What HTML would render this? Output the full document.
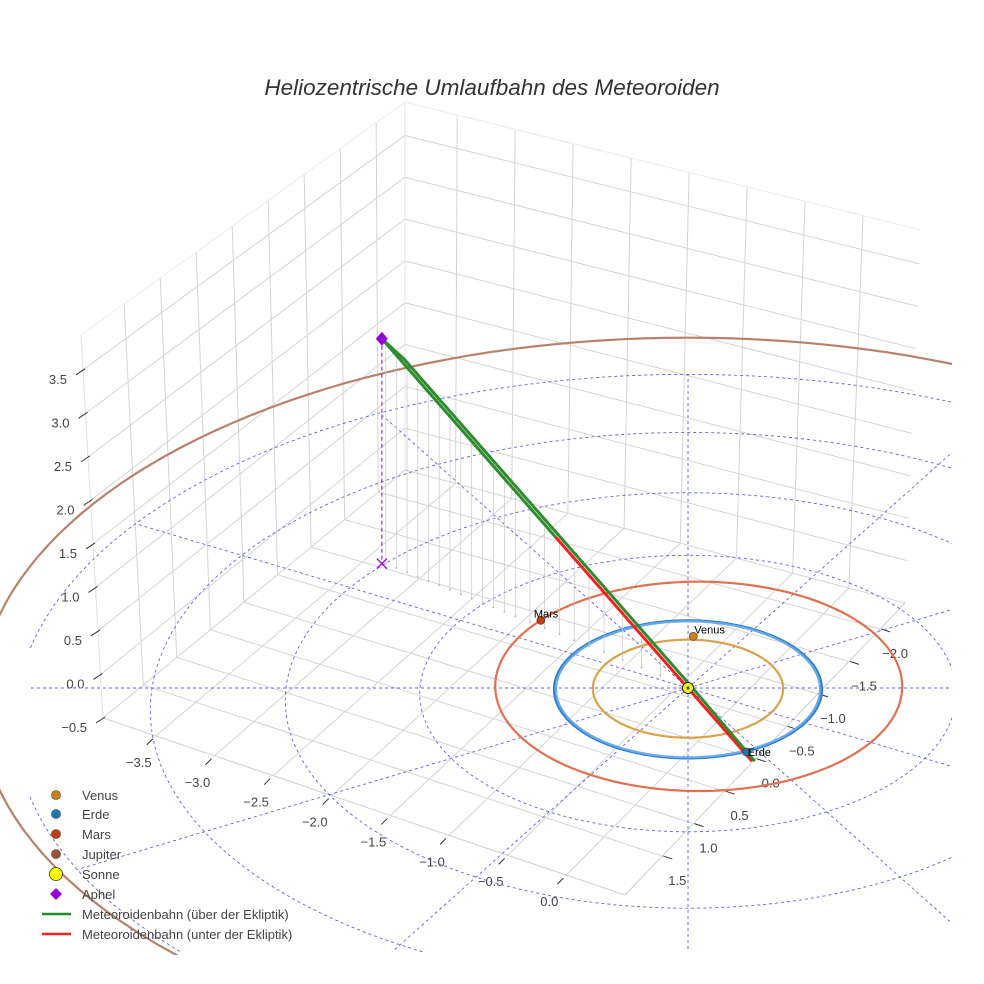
<!DOCTYPE html>
<html><head><meta charset="utf-8"><style>
html,body{margin:0;padding:0;background:#fff;width:984px;height:984px;overflow:hidden;}
svg{display:block;font-family:"Liberation Sans",sans-serif;}
</style></head><body>
<svg id="chart" width="984" height="984" viewBox="0 0 984 984">
<defs>
<clipPath id="clipEc"><rect x="30" y="0" width="922" height="952"/></clipPath>
<clipPath id="clipJ"><rect x="0" y="0" width="952" height="955"/></clipPath>
</defs>
<rect x="0" y="0" width="984" height="984" fill="#fff"/>
<text x="492" y="95" text-anchor="middle" font-size="22.5" font-style="italic" fill="#333">Heliozentrische Umlaufbahn des Meteoroiden</text>
<g id="box"></g>
<g id="axes"></g>
<g id="ecl" clip-path="url(#clipEc)"></g>
<g id="jup" clip-path="url(#clipJ)"></g>
<g id="orbits"></g>
<g id="drops"></g>
<g id="met"></g>
<g id="marks"></g>
<g id="legend">
  <circle cx="56" cy="795" r="4.5" fill="#c88410" stroke="#333" stroke-width="0.6"/>
  <text x="82" y="800" font-size="13" fill="#444">Venus</text>
  <circle cx="56" cy="814" r="4.5" fill="#1f77b4" stroke="#333" stroke-width="0.6"/>
  <text x="82" y="819" font-size="13" fill="#444">Erde</text>
  <circle cx="56" cy="834" r="4.5" fill="#c2400e" stroke="#333" stroke-width="0.6"/>
  <text x="82" y="839" font-size="13" fill="#444">Mars</text>
  <circle cx="56" cy="854" r="4.5" fill="#a0522d" stroke="#333" stroke-width="0.6"/>
  <text x="82" y="859" font-size="13" fill="#444">Jupiter</text>
  <circle cx="56" cy="874" r="6.5" fill="#ffff00" stroke="#333" stroke-width="0.8"/>
  <text x="82" y="879" font-size="13" fill="#444">Sonne</text>
  <path d="M56 888 L62 894 L56 900 L50 894 Z" fill="#9400d3"/>
  <text x="82" y="899" font-size="13" fill="#444">Aphel</text>
  <line x1="42" y1="914" x2="71" y2="914" stroke="#228b22" stroke-width="2.5"/>
  <text x="82" y="919" font-size="13" fill="#444">Meteoroidenbahn (über der Ekliptik)</text>
  <line x1="42" y1="934" x2="71" y2="934" stroke="#ee2222" stroke-width="2.5"/>
  <text x="82" y="939" font-size="13" fill="#444">Meteoroidenbahn (unter der Ekliptik)</text>
</g>
</svg>
<script>
// ---- data ----
const xTicks = [-3.5,-3.0,-2.5,-2.0,-1.5,-1.0,-0.5,0.0];
const yTicks = [1.5,1.0,0.5,0.0,-0.5,-1.0,-1.5,-2.0];
const zTicks = [-0.5,0.0,0.5,1.0,1.5,2.0,2.5,3.0,3.5];
const ringRadii = [1,2,3,4,5];
const spokeAngles = [0,30,60,90,120,150,180,210,240,270,300,330];
const spokeLength = 5;
const orbitNames = ['venus','erde-a','erde-b','mars'];
const orbitRadius = [0.71,1.0,0.985,1.52];
const orbitCx = [0.0,0.0,0.0,0.08];
const orbitCy = [0.0,0.0,0.0,-0.07];
const orbitColor = ['#d9a24a','#2f7fd0','#6aaae6','#e07050'];
const jupiterRadius = 5.3, jupiterCx = 0.0, jupiterCy = -0.35;
const planetNames = ['Venus','Erde','Mars'];
const planetX = [0.04,0.43,-1.12];
const planetY = [-0.76,0.91,-1.0];
const planetColor = ['#c88410','#1f77b4','#c2400e'];
const aphel = [-2.37,-1.87,2.99];
const greenBranchX = [-2.37,-1.005];
const greenBranchY = [-1.87,-0.793];
const greenBranchZ = [2.99,1.267];
const redBranchX = [-1.005,0.474];
const redBranchY = [-0.793,0.374];
const redBranchZ = [1.267,-0.6];
const returnBranchX = [0.494,0.026,-0.913,-2.193,-2.37];
const returnBranchY = [0.374,-0.007,-0.748,-1.758,-1.87];
const returnBranchZ = [-0.6,0.01,1.195,2.81,2.99];
const dropT = [0.0,0.03,0.06,0.09,0.12,0.15,0.18,0.21,0.24,0.27,0.30,0.33,0.36,0.40,0.44,0.48,0.52,0.56,0.60,0.65,0.70,0.75];

// ---- projection ----
const SX=688, SY=688, KX=134, KY=69, KZ=78, C=0.02;
function P(X,Y,Z){const w=1/(1-C*Y);return [SX+KX*X*w, SY+KY*Y*w-KZ*(Z||0)*w];}
const NS='http://www.w3.org/2000/svg';
function mk(tag,attrs,parent){const e=document.createElementNS(NS,tag);for(const k in attrs)e.setAttribute(k,attrs[k]);parent.appendChild(e);return e;}
function pts(arr){return arr.map(p=>p[0].toFixed(1)+','+p[1].toFixed(1)).join(' ');}
function bil(c00,c10,c01,c11,u,v){return [
 c00[0]*(1-u)*(1-v)+c10[0]*u*(1-v)+c01[0]*(1-u)*v+c11[0]*u*v,
 c00[1]*(1-u)*(1-v)+c10[1]*u*(1-v)+c01[1]*(1-u)*v+c11[1]*u*v];}

// ---- box ----
const box=document.getElementById('box');
const FLb=[103,718],FLt=[81,335],BBb=[405,470],BBt=[405,102],RBb=[905,603],RBt=[921,230],FR=[625,895];
const xmin=-3.95,xmax=0.5,ymax=2.1,ymin=-2.4,zmin=-0.5,zmax=3.9;
const ux=x=>(x-xmin)/(xmax-xmin), vy=y=>(ymax-y)/(ymax-ymin), wz=z=>(z-zmin)/(zmax-zmin);
function gl(a,b,name,col){const l=mk('line',{x1:a[0],y1:a[1],x2:b[0],y2:b[1],stroke:col||'#d4d4d4','stroke-width':1},box);

}
yTicks.forEach(y=>gl(bil(FLb,BBb,FLt,BBt,vy(y),0),bil(FLb,BBb,FLt,BBt,vy(y),1),'left-wall-gridline'));
zTicks.forEach(z=>gl(bil(FLb,BBb,FLt,BBt,0,wz(z)),bil(FLb,BBb,FLt,BBt,1,wz(z)),'left-wall-gridline'));
xTicks.forEach(x=>gl(bil(BBb,RBb,BBt,RBt,ux(x),0),bil(BBb,RBb,BBt,RBt,ux(x),1),'right-wall-gridline'));
zTicks.forEach(z=>gl(bil(BBb,RBb,BBt,RBt,0,wz(z)),bil(BBb,RBb,BBt,RBt,1,wz(z)),'right-wall-gridline'));
xTicks.forEach(x=>gl(bil(FLb,FR,BBb,RBb,ux(x),0),bil(FLb,FR,BBb,RBb,ux(x),1),'floor-gridline'));
yTicks.forEach(y=>gl(bil(FLb,FR,BBb,RBb,0,vy(y)),bil(FLb,FR,BBb,RBb,1,vy(y)),'floor-gridline'));
gl(FLt,BBt,'box-edge','#ececec');gl(BBt,RBt,'box-edge','#ececec');gl(BBt,BBb,'box-edge','#e4e4e4');
gl(FLb,FR,'box-edge','#cfcfcf');gl(FR,RBb,'box-edge','#cfcfcf');gl(FLb,FLt,'box-edge','#e0e0e0');

// ---- axes ticks/labels ----
const axes=document.getElementById('axes');
function fmt(v){return (v<0?'\u2212':'')+Math.abs(v).toFixed(1);}
xTicks.forEach(x=>{const e=bil(FLb,FR,BBb,RBb,ux(x),0);
 const t=mk('line',{x1:e[0]-3,y1:e[1]+3,x2:e[0]-9,y2:e[1]+9,stroke:'#333','stroke-width':1},axes);
 
 
 const s=mk('text',{x:e[0]-17,y:e[1]+31,'text-anchor':'middle','font-size':13,fill:'#444'},axes);s.textContent=fmt(x);
 
 });
yTicks.forEach(y=>{const e=bil(FLb,FR,BBb,RBb,1,vy(y));
 const t=mk('line',{x1:e[0]+1,y1:e[1]+0,x2:e[0]+10,y2:e[1]+3,stroke:'#333','stroke-width':1},axes);
 
 
 const s=mk('text',{x:e[0]+15,y:e[1]+29,'text-anchor':'middle','font-size':13,fill:'#444'},axes);s.textContent=fmt(y);
 
 });
zTicks.forEach(z=>{const e=bil(FLb,FLb,FLt,FLt,0,wz(z));
 const t=mk('line',{x1:e[0]-7,y1:e[1]+5,x2:e[0]+2,y2:e[1]-1,stroke:'#333','stroke-width':1},axes);
 
 
 const s=mk('text',{x:e[0]-16,y:e[1]+14,'text-anchor':'end','font-size':13,fill:'#444'},axes);s.textContent=fmt(z);
 
 });

// ---- ecliptic grid ----
const ecl=document.getElementById('ecl');
function circlePts(cx,cy,r){const a=[];for(let i=0;i<=180;i++){const t=i/180*2*Math.PI;a.push(P(cx+r*Math.cos(t),cy+r*Math.sin(t),0));}return a;}
ringRadii.forEach(r=>{const e=mk('polyline',{points:pts(circlePts(0,0,r)),fill:'none',stroke:'#6060e0','stroke-width':0.9,'stroke-dasharray':'3,3'},ecl);
 
 });
spokeAngles.forEach(a=>{const t=a*Math.PI/180;const arr=[];for(let i=0;i<=40;i++){const r=i/40*spokeLength;arr.push(P(r*Math.cos(t),r*Math.sin(t),0));}
 const e=mk('polyline',{points:pts(arr),fill:'none',stroke:'#6060e0','stroke-width':0.9,'stroke-dasharray':'3,3'},ecl);
 
 });

// ---- orbits ----
const jup=document.getElementById('jup');
const jo=mk('polyline',{points:pts(circlePts(jupiterCx,jupiterCy,jupiterRadius)),fill:'none',stroke:'#b8826a','stroke-width':2.2},jup);


const orb=document.getElementById('orbits');
orbitNames.forEach((n,i)=>{const e=mk('polyline',{points:pts(circlePts(orbitCx[i],orbitCy[i],orbitRadius[i])),fill:'none',stroke:orbitColor[i],'stroke-width':2.2},orb);
 
 });

// ---- meteoroid ----
const drops=document.getElementById('drops');
dropT.forEach(t=>{const X=aphel[0]+t*(redBranchX[1]-aphel[0]),Y=aphel[1]+t*(redBranchY[1]-aphel[1]),Z=aphel[2]+t*(redBranchZ[1]-aphel[2]);
 if(Z<=0)return;const a=P(X+0.03,Y,Z),b=P(X+0.03,Y,0);
 const l=mk('line',{x1:a[0],y1:a[1],x2:b[0],y2:b[1],stroke:'#c8c8c8','stroke-width':0.7},drops);
 
 
 const d=mk('circle',{cx:b[0],cy:b[1],r:1,fill:'#bbb'},drops);
 
 });
const met=document.getElementById('met');
function path3(X,Y,Z){return pts(X.map((x,i)=>P(x,Y[i],Z[i])));}
const g1=mk('polyline',{points:path3(greenBranchX,greenBranchY,greenBranchZ),fill:'none',stroke:'#2e8b2e','stroke-width':3},met);


const r1=mk('polyline',{points:path3(redBranchX,redBranchY,redBranchZ),fill:'none',stroke:'#ee2222','stroke-width':3},met);


const g2=mk('polyline',{points:path3(returnBranchX,returnBranchY,returnBranchZ),fill:'none',stroke:'#2e8b2e','stroke-width':3},met);


const ap=P(aphel[0],aphel[1],aphel[2]),ax=P(aphel[0],aphel[1],0);
const pd=mk('line',{x1:ap[0],y1:ap[1],x2:ax[0],y2:ax[1],stroke:'#9400d3','stroke-width':1,'stroke-dasharray':'4,3'},met);



// ---- markers ----
const mks=document.getElementById('marks');
const xm=mk('path',{d:`M${ax[0]-5} ${ax[1]-5} L${ax[0]+5} ${ax[1]+5} M${ax[0]+5} ${ax[1]-5} L${ax[0]-5} ${ax[1]+5}`,stroke:'#9400d3','stroke-width':1.3,fill:'none'},mks);


const dm=mk('path',{d:`M${ap[0]} ${ap[1]-7} L${ap[0]+6} ${ap[1]} L${ap[0]} ${ap[1]+7} L${ap[0]-6} ${ap[1]} Z`,fill:'#9400d3'},mks);


const sp=P(0,0,0);
const sun=mk('circle',{cx:sp[0],cy:sp[1],r:5.5,fill:'#ffff00',stroke:'#222','stroke-width':1},mks);


const sc=mk('circle',{cx:sp[0],cy:sp[1],r:1.6,fill:'#3355aa'},mks);


planetNames.forEach((n,i)=>{const p=P(planetX[i],planetY[i],0);
 const c=mk('circle',{cx:p[0],cy:p[1],r:4,fill:planetColor[i],stroke:'#333','stroke-width':0.6},mks);
 
 
 const t=mk('text',{x:p[0]+(n==='Mars'?-7:1),y:p[1]-(n==='Erde'?-4:3),'font-size':11,fill:'#000'},mks);t.textContent=n;
 
 });
</script>
</body></html>
